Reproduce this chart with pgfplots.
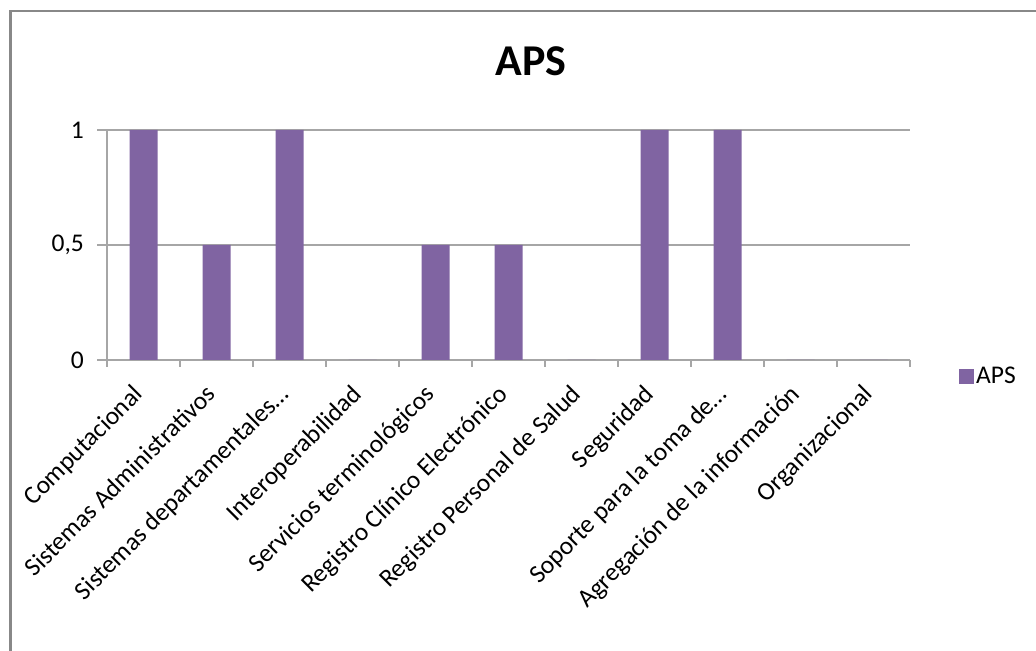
\documentclass[border=0pt]{standalone}
\usepackage{pgfplots}
\pgfplotsset{compat=1.18}
\usepackage{fontspec}
\setmainfont{Carlito}
\definecolor{apspurple}{HTML}{8064A2}
\definecolor{framegray}{HTML}{888888}
\definecolor{axisgray}{HTML}{A6A6A6}
\begin{document}
\begin{tikzpicture}[x=1bp,y=1bp]
\path[use as bounding box, fill=white] (0,0) rectangle (1036,651);
\draw[framegray, line width=2.4bp] (10.5,-5) -- (10.5,640) -- (1041,640);
\begin{axis}[
  at={(107bp,291bp)}, anchor=south west,
  scale only axis, width=803bp, height=230bp,
  ybar, bar width=28bp,
  xmin=-0.5, xmax=10.5, ymin=0, ymax=1,
  xtick={0,...,10},
  xticklabels={Computacional, Sistemas Administrativos, Sistemas departamentales…, Interoperabilidad, Servicios terminológicos, Registro Clínico Electrónico, Registro Personal de Salud, Seguridad, Soporte para la toma de…, Agregación de la información, Organizacional},
  minor xtick={-0.5,0.5,...,10.5},
  ytick={0,0.5,1}, yticklabels={0,{0,5},1},
  axis lines*=left,
  axis line style={axisgray, line width=1.2bp},
  tick align=outside,
  major tick length=10bp, minor tick length=7bp,
  major x tick style={draw=none},
  minor x tick style={axisgray, line width=1.2bp},
  ytick style={axisgray, line width=1.2bp},
  ymajorgrids, grid style={axisgray, line width=1.2bp},
  /pgf/number format/assume math mode=true,
  ticklabel style={font=\fontsize{25.5bp}{30bp}\selectfont, text=black},
  xticklabel style={xshift=-12bp, yshift=-13bp, rotate=45, anchor=north east, inner sep=0pt},
  yticklabel style={xshift=-13bp, anchor=east, inner sep=0pt},
  title={APS},
  title style={font=\bfseries\fontsize{44bp}{50bp}\selectfont, at={(0.528,1.213)}, anchor=base},
  legend style={at={(1.061,-0.07)}, anchor=west, draw=none, fill=none, inner sep=0pt,
    font=\fontsize{25.5bp}{30bp}\selectfont},
  legend image code/.code={\fill[apspurple] (0bp,-7.5bp) rectangle (15bp,7.5bp);},
]
\addplot[fill=apspurple, draw=none] coordinates {
  (0,1) (1,0.5) (2,1) (3,0) (4,0.5) (5,0.5) (6,0) (7,1) (8,1) (9,0) (10,0)};
\addlegendentry{APS}
\end{axis}
\end{tikzpicture}
\end{document}
